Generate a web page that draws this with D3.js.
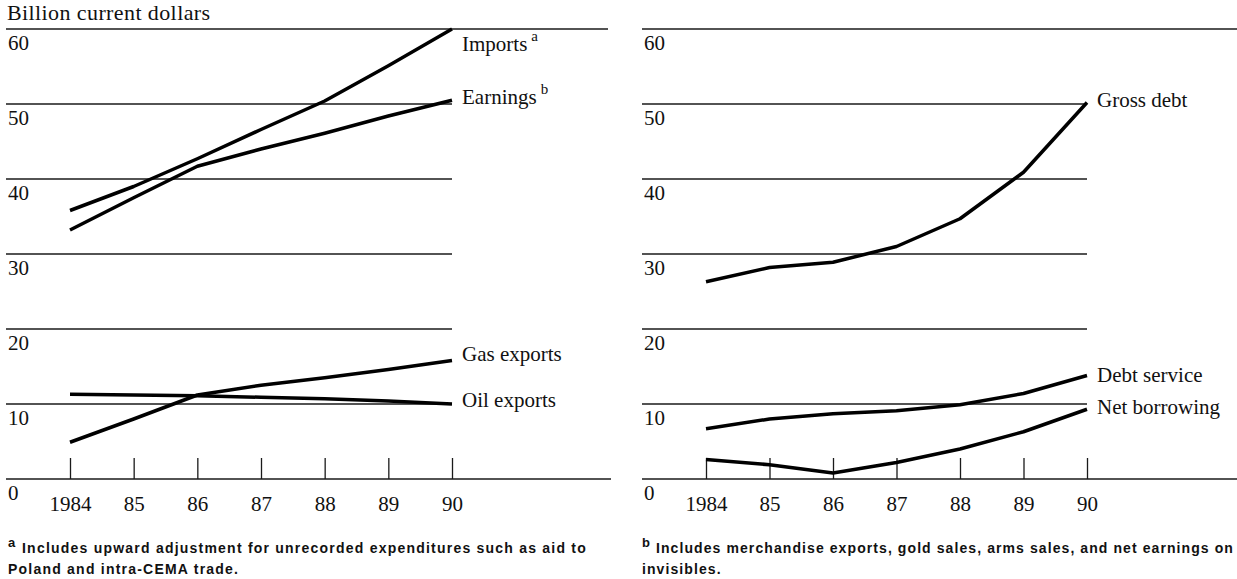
<!DOCTYPE html>
<html>
<head>
<meta charset="utf-8">
<script src="https://cdn.jsdelivr.net/npm/d3@7"></script>
<style>
  body { margin: 0; background: #fff; }
  svg { display: block; }
  .serif { font-family: "Liberation Serif", "Times New Roman", serif; fill: #111; }
  .note { font-family: "Liberation Sans", Arial, sans-serif; fill: #111; font-weight: bold; }
</style>
</head>
<body>
<div id="chart"></div>
<script>
// years on the x axis
var years = [1984, 1985, 1986, 1987, 1988, 1989, 1990];
var yearLabels = ["1984", "85", "86", "87", "88", "89", "90"];
var yTicks = [0, 10, 20, 30, 40, 50, 60];

// left panel, billion current dollars
var imports      = [35.8, 39.0, 42.7, 46.6, 50.4, 55.1, 60.0];
var earnings     = [33.2, 37.5, 41.7, 44.0, 46.1, 48.4, 50.5];
var gasExports   = [4.9, 8.0, 11.2, 12.5, 13.5, 14.6, 15.8];
var oilExports   = [11.3, 11.2, 11.1, 10.9, 10.7, 10.4, 10.0];

// right panel
var grossDebt    = [26.3, 28.2, 28.9, 31.0, 34.7, 40.9, 50.2];
var debtService  = [6.7, 8.0, 8.7, 9.1, 9.9, 11.4, 13.8];
var netBorrowing = [2.6, 1.9, 0.8, 2.2, 4.0, 6.3, 9.3];

var width = 1237, height = 579;

var svg = d3.select("#chart").append("svg")
    .attr("width", width)
    .attr("height", height);

var y = d3.scaleLinear().domain([0, 60]).range([479, 29]);

var line = function(x) {
  return d3.line()
    .x(function(d, i) { return x(years[i]); })
    .y(function(d) { return y(d); });
};

var drawPanel = function(p) {
  var x = d3.scaleLinear().domain([1984, 1990]).range([p.x0, p.x1]);
  var g = svg.append("g");

  // gridlines, top and zero lines run further to the right
  g.selectAll(".grid")
      .data(yTicks)
    .enter().append("line")
      .attr("x1", p.left)
      .attr("x2", function(d) { return (d === 0 || d === 60) ? p.longEnd[d] : p.x1; })
      .attr("y1", function(d) { return y(d); })
      .attr("y2", function(d) { return y(d); })
      .style("stroke", "#1a1a1a")
      .style("stroke-width", 1.3);

  // value labels sit under their gridline
  g.selectAll(".ylab")
      .data(yTicks)
    .enter().append("text")
      .attr("class", "serif")
      .attr("x", p.left + 2)
      .attr("y", function(d) { return y(d) + 21; })
      .attr("font-size", "21px")
      .text(function(d) { return d; });

  // x axis: ticks point up from the zero line
  var axis = d3.axisBottom(x)
      .tickValues(years)
      .tickSizeInner(-21)
      .tickSizeOuter(0)
      .tickPadding(17)
      .tickFormat(function(d, i) { return yearLabels[i]; });

  var ax = g.append("g")
      .attr("transform", "translate(0," + y(0) + ")")
      .call(axis);
  ax.select(".domain").remove();
  ax.selectAll(".tick line").style("stroke", "#1a1a1a").style("stroke-width", 1.3);
  ax.selectAll(".tick text")
      .attr("class", "serif")
      .style("font-family", "'Liberation Serif', serif")
      .style("font-size", "21px")
      .style("fill", "#111");

  // series lines
  p.series.forEach(function(s) {
    g.append("path")
      .datum(s.values)
      .attr("d", line(x))
      .style("fill", "none")
      .style("stroke", "#000")
      .style("stroke-width", 3.5)
      .style("stroke-linejoin", "round");

    var t = g.append("text")
      .attr("class", "serif")
      .attr("x", p.x1 + 10)
      .attr("y", s.ly)
      .attr("font-size", "21px")
      .text(s.name);
    if (s.sup) {
      t.append("tspan")
        .attr("dx", 4)
        .attr("dy", -10)
        .attr("font-size", "15px")
        .text(s.sup);
    }
  });
};

drawPanel({
  left: 6, x0: 70, x1: 452,
  longEnd: {0: 611, 60: 608},
  series: [
    {name: "Imports", sup: "a", values: imports, ly: 51},
    {name: "Earnings", sup: "b", values: earnings, ly: 104},
    {name: "Gas exports", values: gasExports, ly: 361},
    {name: "Oil exports", values: oilExports, ly: 407}
  ]
});

drawPanel({
  left: 642, x0: 706, x1: 1087,
  longEnd: {0: 1237, 60: 1237},
  series: [
    {name: "Gross debt", values: grossDebt, ly: 107},
    {name: "Debt service", values: debtService, ly: 382},
    {name: "Net borrowing", values: netBorrowing, ly: 414}
  ]
});

svg.append("text")
  .attr("class", "serif")
  .attr("x", 7)
  .attr("y", 20)
  .attr("font-size", "22px")
  .style("letter-spacing", "0.4px")
  .text("Billion current dollars");

// footnotes
var notes = [
  {x: 8, sup: "a", lines: ["Includes upward adjustment for unrecorded expenditures such as aid to",
                           "Poland and intra-CEMA trade."], w: 565},
  {x: 642, sup: "b", lines: ["Includes merchandise exports, gold sales, arms sales, and net earnings on",
                             "invisibles."], w: 578}
];

notes.forEach(function(n) {
  svg.append("text")
    .attr("class", "note")
    .attr("x", n.x)
    .attr("y", 547)
    .attr("font-size", "13px")
    .text(n.sup);

  var first = svg.append("text")
    .attr("class", "note")
    .attr("x", n.x + 14)
    .attr("y", 553)
    .attr("font-size", "14px")
    .text(n.lines[0]);
  // spread the letters so the first line spans like the print
  var natural = first.node().getComputedTextLength();
  var ls = Math.max(0, (n.w - natural) / n.lines[0].length);
  first.style("letter-spacing", ls + "px");

  svg.append("text")
    .attr("class", "note")
    .attr("x", n.x)
    .attr("y", 574)
    .attr("font-size", "14px")
    .style("letter-spacing", ls + "px")
    .text(n.lines[1]);
});
</script>
</body>
</html>
